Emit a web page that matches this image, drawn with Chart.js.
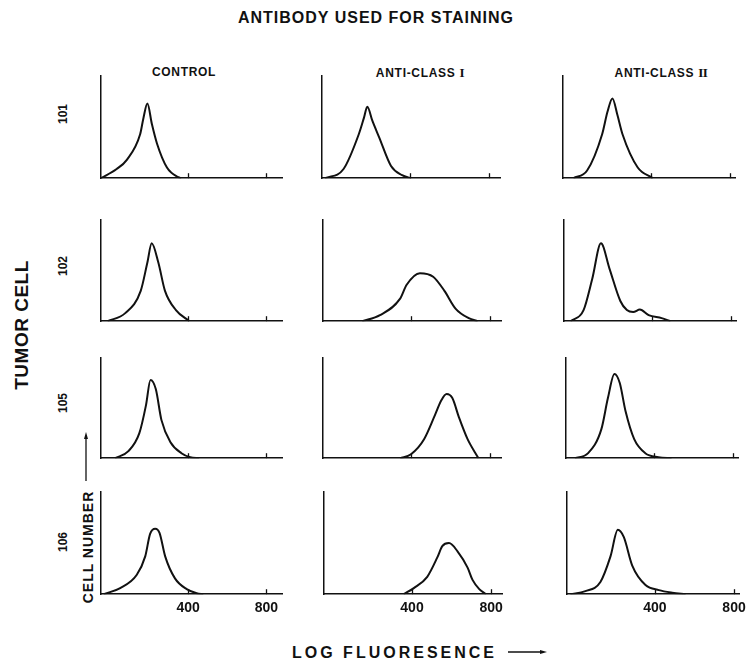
<!DOCTYPE html>
<html>
<head>
<meta charset="utf-8">
<script src="https://cdn.jsdelivr.net/npm/chart.js@4/dist/chart.umd.min.js"></script>
<style>
  html, body { margin:0; padding:0; background:#fff; }
  #wrap { position:relative; width:746px; height:663px; overflow:hidden; background:#fff;
          font-family:"Liberation Sans", Arial, Helvetica, sans-serif; color:#111; }
  .t { position:absolute; font-weight:bold; white-space:nowrap; line-height:1; }
  .c { transform:translate(-50%,-50%); }
  .r { transform:translate(-50%,-50%) rotate(-90deg); }
  .num { font-family:"Liberation Serif", "Times New Roman", serif; font-weight:bold; letter-spacing:-0.5px; font-size:13px; }
  canvas { position:absolute; }
</style>
</head>
<body>
<div id="wrap">
  <div class="t c" style="left:376px;top:18px;font-size:16px;letter-spacing:1px;">ANTIBODY USED FOR STAINING</div>
  <div class="t r" style="left:21px;top:325px;font-size:19px;letter-spacing:0.5px;">TUMOR CELL</div>
  <div class="t r" style="left:88px;top:547px;font-size:14px;letter-spacing:1px;">CELL NUMBER</div>
  <div class="t" style="left:292px;top:645px;font-size:16px;letter-spacing:3px;">LOG FLUORESENCE</div>
  <svg width="746" height="663" style="position:absolute;left:0;top:0;pointer-events:none">
    <line x1="86" y1="481" x2="86" y2="437" stroke="#111" stroke-width="1.3"/>
    <polygon points="86,432 84,439 88,439" fill="#111"/>
    <line x1="508" y1="652" x2="542" y2="652" stroke="#111" stroke-width="1.3"/>
    <polygon points="547,652 540,650 540,654" fill="#111"/>
  </svg>
</div>
<script>
// ---------- data ----------
const cellLines    = ['101', '102', '105', '106'];
const antibodyText = ['CONTROL', 'ANTI-CLASS', 'ANTI-CLASS'];
const antibodyNum  = ['', 'I', 'II'];
const fluorTicks   = [400, 800];

// tumour cell 101
const fluor101Control = [-45, 35, 87, 155, 172, 192, 215, 241, 292, 350, 365];
const count101Control = [0, 9, 18, 43, 59, 73, 53, 34, 10.5, 1, 0];
const fluor101ClassI  = [-30, 64, 141, 167, 184, 210, 244, 304, 360, 406];
const count101ClassI  = [0, 9, 43, 59, 70, 56, 40, 12, 3, 0];
const fluor101ClassII = [8, 77, 153, 180, 205, 230, 256, 333, 410];
const count101ClassII = [0, 7.5, 43, 65, 78, 62, 43, 10.5, 0];
// tumour cell 102
const fluor102Control = [-11, 79, 158, 192, 214, 248, 282, 338, 406];
const count102Control = [0, 8, 30, 58, 77, 58, 30, 11, 0];
const fluor102ClassI  = [153, 243, 344, 378, 445, 512, 569, 625, 692, 737];
const count102ClassI  = [0, 6, 22, 36, 47.5, 44, 30, 12.5, 3, 0];
const fluor102ClassII = [-12, 54, 98, 142, 185, 240, 273, 305, 339, 383, 449, 493];
const count102ClassII = [0, 11, 42, 77, 52, 20, 11, 9, 11.5, 6, 3, 0];
// tumour cell 105
const fluor105Control = [27, 95, 151, 185, 208, 235, 264, 310, 366, 411, 457];
const count105Control = [0, 7, 25, 53, 78, 69, 38, 16, 5, 1, 0];
const fluor105ClassI  = [345, 400, 466, 521, 554, 580, 609, 642, 686, 741];
const count105ClassI  = [0, 4, 19, 43, 58, 64, 60, 41, 19, 0];
const fluor105ClassII = [0, 67, 134, 167, 200, 227, 256, 300, 356, 422, 489];
const count105ClassII = [0, 5, 29, 60, 84, 75, 47, 19, 5, 1, 0];
// tumour cell 106
const fluor106Control = [-31, 53, 138, 181, 206, 232, 254, 283, 333, 393, 444, 478];
const count106Control = [0, 6, 19, 37, 59, 64, 60, 37, 15.5, 5, 1, 0];
const fluor106ClassI  = [358, 409, 477, 528, 553, 587, 630, 681, 706, 740, 774];
const count106ClassI  = [0, 6, 17, 36, 47, 50, 42, 26, 14, 5, 0];
const fluor106ClassII = [-28, 48, 124, 175, 212, 242, 285, 352, 420, 487, 555];
const count106ClassII = [0, 3, 12, 37, 63, 56, 28, 9, 4, 1.5, 0];

const panels = [
  [[fluor101Control, count101Control], [fluor101ClassI, count101ClassI], [fluor101ClassII, count101ClassII]],
  [[fluor102Control, count102Control], [fluor102ClassI, count102ClassI], [fluor102ClassII, count102ClassII]],
  [[fluor105Control, count105Control], [fluor105ClassI, count105ClassI], [fluor105ClassII, count105ClassII]],
  [[fluor106Control, count106Control], [fluor106ClassI, count106ClassI], [fluor106ClassII, count106ClassII]]
];

// ---------- layout ----------
const colLeft = [                // y-axis position of each panel (the scan is slightly skewed)
  [101, 322, 563],
  [101, 323, 564],
  [101, 323, 566],
  [101, 324, 567]
];
const colWidth = [181, 178, 177];
const colMax   = [880, 855, 830];
const xMin = -45;
const rowTop   = [76, 220, 358, 492];
const rowBot   = [183, 326, 463, 599];
const headX    = [184, 420, 661];
const headY    = 72;
const rowLabelX = 63;
const rowLabelY = [114, 266, 403, 542];
const PADL = 3, PADR = 8, PADT = 3, LABELH = 24;

const wrap = document.getElementById('wrap');
antibodyText.forEach((a, i) => {
  const d = document.createElement('div');
  d.className = 't c';
  d.style.cssText = `left:${headX[i]}px;top:${headY}px;font-size:12px;letter-spacing:0.7px;`;
  d.appendChild(document.createTextNode(a + (antibodyNum[i] ? ' ' : '')));
  if (antibodyNum[i]) {
    const s = document.createElement('span');
    s.className = 'num';
    s.textContent = antibodyNum[i];
    d.appendChild(s);
  }
  wrap.appendChild(d);
});
cellLines.forEach((c, i) => {
  const d = document.createElement('div');
  d.className = 't r';
  d.style.cssText = `left:${rowLabelX}px;top:${rowLabelY[i]}px;font-size:12px;`;
  d.textContent = c;
  wrap.appendChild(d);
});

const innerTicks = {
  id: 'innerTicks',
  afterDraw(chart) {
    const xs = chart.scales.x, ctx = chart.ctx, yb = chart.chartArea.bottom;
    ctx.save();
    ctx.strokeStyle = '#111';
    ctx.lineWidth = 1.3;
    xs.ticks.forEach(t => {
      const px = Math.round(xs.getPixelForValue(t.value)) + 0.5;
      ctx.beginPath();
      ctx.moveTo(px, yb);
      ctx.lineTo(px, yb - 5);
      ctx.stroke();
    });
    ctx.restore();
  }
};

panels.forEach((row, r) => {
  row.forEach(([xs, ys], c) => {
    const h = rowBot[r] - rowTop[r];
    const cv = document.createElement('canvas');
    const W = colWidth[c] + PADL + PADR, H = h + PADT + LABELH;
    cv.width = W; cv.height = H;
    cv.style.left = (colLeft[r][c] - PADL) + 'px';
    cv.style.top = (rowTop[r] - PADT) + 'px';
    cv.style.width = W + 'px'; cv.style.height = H + 'px';
    wrap.appendChild(cv);
    const showLabels = r === cellLines.length - 1;
    new Chart(cv, {
      type: 'line',
      data: {
        datasets: [{
          data: xs.map((x, i) => ({ x, y: ys[i] })),
          borderColor: '#111',
          borderWidth: 2,
          pointRadius: 0,
          fill: false,
          cubicInterpolationMode: 'monotone'
        }]
      },
      options: {
        responsive: false,
        devicePixelRatio: 1,
        animation: false,
        layout: { padding: { left: PADL, right: PADR, top: PADT, bottom: 0 } },
        plugins: { legend: { display: false }, tooltip: { enabled: false } },
        scales: {
          x: {
            type: 'linear', min: xMin, max: colMax[c],
            afterBuildTicks: axis => { axis.ticks = fluorTicks.map(v => ({ value: v })); },
            grid: { display: false, drawTicks: false },
            border: { display: true, color: '#111', width: 1.5 },
            ticks: {
              padding: 6,
              autoSkip: false,
              maxRotation: 0,
              color: showLabels ? '#111' : 'rgba(0,0,0,0)',
              font: { family: '"Liberation Sans", Arial, sans-serif', size: 14, weight: 'bold' }
            }
          },
          y: {
            min: 0, max: 100,
            grid: { display: false, drawTicks: false },
            border: { display: true, color: '#111', width: 1.5 },
            ticks: { display: false }
          }
        }
      },
      plugins: [innerTicks]
    });
  });
});
</script>
</body>
</html>
